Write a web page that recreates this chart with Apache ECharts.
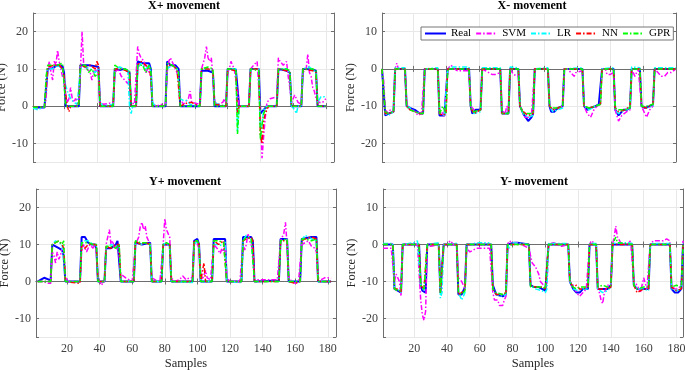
<!DOCTYPE html>
<html>
<head>
<meta charset="utf-8">
<script src="https://cdn.jsdelivr.net/npm/echarts@6/dist/echarts.min.js"></script>
<style>
html, body { margin: 0; padding: 0; background: #fff; }
#chart { width: 685px; height: 370px; }
</style>
</head>
<body>
<div id="chart"></div>
<script>
// X+ movement  [sample, force]
var xpReal = [[1,-0.4],[8,-0.4],[9,0],[10,10],[13,10.2],[16,11],[19,10.8],[20,9],[21,0],[29,0],[30,11],[35,11],[38,10.8],[41,10.5],[42,0],[50,0],[51,10],[54,9.7],[57,10],[60,9],[61,0],[64,0],[65,12],[68,11.5],[72,11.5],[73,10],[74,0],[82,0],[83,12],[85,11],[88,11],[90,10],[91,0],[103,0],[104,9.5],[108,9.5],[111,9],[112,0],[119,0],[120,10],[125,9.8],[126,5],[127,0],[133,0],[134,10],[139,10],[140,-2],[141,-2],[142,-1],[144,0],[150,0],[151,10],[156,9.5],[158,9],[159,0],[165,0],[166,10],[172,9.8],[174,9.5],[175,0],[180,0]];
var xpSVM = [[1,-0.5],[8,-0.3],[9,2],[10,10],[11,12],[12,9],[13,7],[14,12],[15,11],[16,15],[17,12],[18,10],[19,8],[20,7],[21,3],[22,1],[23,2],[24,5],[25,2],[26,1],[27,2],[28,1.5],[29,1],[30,10],[31,20],[32,11],[34,10],[36,9],[37,7],[38,9],[40,10],[41,8],[42,1],[44,0.5],[48,0.8],[50,0.5],[51,9],[53,10],[55,8],[57,7],[59,6],[60,8],[61,1],[63,0.5],[64,0.5],[65,16],[66,14],[67,13],[69,12],[70,9],[71,10],[72,10],[73,8],[74,1],[76,0],[80,0.5],[82,0.5],[83,9],[84,12],[85,13],[87,11],[89,9],[90,8],[91,2],[93,0.5],[96,2],[97,4],[98,1],[103,0.5],[104,10],[106,13],[107,16],[108,13],[109,12],[110,13],[111,8],[112,1],[114,0.5],[117,1],[118,2],[119,0.5],[120,9],[121,10],[122,12],[124,10],[126,4],[127,0],[133,0],[134,10],[136,11],[138,12],[139,5],[140,-3],[141,-14],[142,-8],[143,-3],[144,1],[146,2],[150,2.5],[151,13],[152,12],[154,11],[156,12],[157,8],[158,5],[159,1],[160,1.5],[161,3],[163,1],[165,0.5],[166,9],[168,10],[169,14],[170,9],[171,8],[172,5],[173,4],[174,2],[176,1],[178,1],[180,2]];
var xpLR = [[1,-0.5],[4,-1],[6,-0.5],[8,-0.3],[9,5],[10,10],[13,10],[16,11],[19,10],[20,7],[22,4],[24,2],[26,1],[28,0.5],[29,1],[30,10],[33,10.5],[36,10],[39,9],[41,10],[42,1],[44,0],[50,0.5],[51,10],[54,10.5],[57,10],[59,9.5],[60,0],[61,-2],[62,0],[64,0],[65,10],[67,11.5],[70,10],[72,11],[73,9],[74,1],[76,0],[82,0],[83,10],[86,11],[89,10],[90,6],[91,2],[93,1.5],[95,1.5],[97,0.5],[103,0],[104,10],[108,10],[111,9.5],[112,1],[114,0.5],[119,0],[120,10],[125,10],[126,-7],[127,0],[133,0],[134,10],[139,10],[140,-6],[141,-5],[142,-1],[144,0],[150,0],[151,10],[156,10],[158,9],[159,0],[161,-1],[162,-2],[163,0],[165,0],[166,10],[170,10.5],[174,9],[175,1],[177,2.5],[179,2.5],[180,2]];
var xpNN = [[1,-0.3],[8,-0.3],[9,5],[10,10.5],[14,11],[17,11],[19,10],[20,8],[21,3],[22,0],[23,-1.5],[24,0],[28,0],[29,1],[30,11],[33,10.5],[36,11],[39,10],[40,12],[41,11],[42,0],[50,0],[51,10],[55,10],[58,9.5],[60,9],[61,0],[64,0],[65,11],[67,12],[70,11],[72,10],[73,8],[74,0],[82,0],[83,11],[86,11],[89,10],[90,5],[91,0],[96,1],[98,1],[100,0.5],[103,0],[104,10],[108,10],[111,9.5],[112,0.5],[119,0],[120,10],[125,9.5],[126,-2],[127,0],[133,0],[134,10],[139,10],[140,-8],[141,-10],[142,-4],[143,-2],[145,0],[150,0],[151,10],[156,9.5],[158,9],[159,0],[165,0],[166,10],[172,9.5],[174,9],[175,0],[180,0]];
var xpGPR = [[1,-0.3],[8,-0.3],[9,8],[10,11],[13,11],[16,11],[19,11.5],[20,11],[21,0],[29,0],[30,11],[33,11],[35,9],[37,10],[39,8],[41,9],[42,0],[50,0],[51,11],[54,10],[57,10],[60,9.5],[61,0],[64,0],[65,11],[68,11],[70,9],[72,11],[73,10],[74,0],[82,0],[83,11.5],[86,11],[89,10],[90,9],[91,0],[103,0],[104,10],[108,10.5],[111,10],[112,0],[119,0],[120,10],[125,10],[126,-7.5],[127,0],[133,0],[134,10],[139,9.5],[140,-9],[141,-5],[142,-2],[144,0],[150,0],[151,10],[156,10],[158,9.5],[159,0],[165,0],[166,10],[172,10],[174,9.5],[175,0],[180,0]];

// X- movement
var xmReal = [[1,0],[2,0],[3,-12.5],[5,-12],[8,-11.5],[9,0],[15,0],[16,-10],[18,-10.5],[21,-11],[24,-12],[26,-12],[27,0],[35,0],[36,-12.5],[39,-12.5],[40,-12],[41,0],[54,0],[55,-10],[56,-12],[58,-11],[61,-11],[62,0],[73,0],[74,-12],[78,-12],[79,0],[84,0],[85,-10],[87,-12],[90,-14],[91,-14],[92,-13],[93,-12],[94,0],[102,0],[103,-10],[104,-11.5],[106,-11.5],[108,-10.5],[111,-10],[112,0],[123,0],[124,-10],[126,-11],[128,-10.5],[131,-10],[133,-9.5],[134,-9],[135,0],[142,0],[143,-11],[145,-12.5],[148,-11],[150,-11],[152,-10.5],[153,0],[158,0],[159,-10],[161,-10.5],[164,-10],[166,-9.5],[167,0],[180,0]];
var xmSVM = [[1,0],[2,-3],[3,-11],[5,-12],[6,-11],[7,-11],[8,-11.5],[9,0],[10,1.5],[11,0],[15,0],[16,-9],[17,-10.5],[19,-11],[21,-11.5],[23,-12.5],[25,-12],[26,-12],[27,0],[35,0],[36,-11],[38,-12],[39,-13],[40,-12.5],[41,0],[43,1],[45,0],[47,-0.5],[54,-0.5],[55,-10],[57,-11],[59,-11.5],[61,-11],[62,0],[64,-0.5],[66,-1],[68,-1.5],[70,-1.5],[73,-1],[74,-11],[76,-12],[77,-10],[78,-11],[79,0],[81,-1.5],[84,-2],[85,-10],[87,-12],[88,-13],[90,-13],[92,-12.5],[93,-12],[94,0],[102,0],[103,-10],[105,-11],[107,-10.5],[109,-10.5],[111,-10],[112,0],[114,0],[116,-1],[118,-2],[119,-1],[123,-0.5],[124,-10],[126,-12],[128,-13],[130,-11],[132,-10],[134,-9.5],[135,0],[137,0],[138,-1.5],[140,-1.5],[142,-1],[143,-11],[145,-14],[147,-12.5],[148,-13],[150,-11.5],[152,-11],[153,0],[155,-2],[157,0],[158,0],[159,-10],[161,-12],[162,-13],[164,-11],[166,-10],[167,0],[169,-1],[171,-2],[173,-2],[175,-1],[177,-1],[180,0]];
var xmLR = [[1,0],[2,0],[3,-12],[5,-12.5],[8,-11.5],[9,0.3],[15,0.3],[16,-10],[18,-10.5],[21,-11.5],[24,-12],[26,-12],[27,0],[35,0.3],[36,-12],[39,-12.5],[40,-12],[41,0],[44,0.5],[54,0.5],[55,-10],[57,-12],[61,-11.5],[62,0.3],[73,0.3],[74,-12],[78,-12],[79,0.5],[84,0.3],[85,-10],[87,-12],[90,-13],[93,-12.5],[94,0],[102,0.3],[103,-10],[105,-11.5],[108,-11],[111,-10.5],[112,0],[123,0.3],[124,-10],[127,-11],[131,-10],[134,-9.5],[135,0],[142,0.3],[143,-11],[145,-12],[149,-11],[152,-10.5],[153,0.5],[158,0.3],[159,-10],[162,-10.5],[166,-10],[167,0.3],[180,0.3]];
var xmNN = [[1,0],[2,0],[3,-12],[5,-12],[8,-11.5],[9,0],[15,0],[16,-10],[18,-11],[21,-11.5],[24,-12],[26,-12],[27,0],[35,0],[36,-12],[38,-12.5],[40,-12],[41,0],[54,0],[55,-10.5],[57,-12],[61,-11],[62,0],[73,0],[74,-12],[78,-12],[79,0],[84,0],[85,-10],[87,-11.5],[90,-12.5],[93,-12],[94,0],[102,0],[103,-10],[105,-11],[108,-10.5],[111,-10],[112,0],[123,0],[124,-10],[127,-10.5],[131,-10],[134,-9.5],[135,0],[142,0],[143,-10.5],[145,-11.5],[149,-11],[152,-10],[153,0],[158,0],[159,-10],[162,-10.5],[166,-9.5],[167,0],[180,0]];
var xmGPR = [[1,0],[2,0],[3,-11.5],[5,-12],[8,-11.5],[9,0],[15,0],[16,-10],[18,-11],[21,-11.5],[24,-12],[26,-12],[27,0],[35,0],[36,-12],[38,-10],[40,-12],[41,0],[54,0],[55,-10.5],[57,-11.5],[61,-11],[62,0],[73,0],[74,-12],[78,-12],[79,0],[84,0],[85,-10],[87,-12],[90,-12],[93,-12],[94,0],[102,0],[103,-10],[105,-10.5],[108,-10.5],[111,-10],[112,0],[123,0],[124,-10],[127,-10.5],[131,-10],[134,-9.5],[135,0],[142,0],[143,-10.5],[145,-11],[149,-11],[152,-10.5],[153,0],[158,0],[159,-10],[162,-10],[166,-9.5],[167,0],[180,0]];

// Y+ movement
var ypReal = [[2,0],[3,0.5],[4,0.5],[5,0.3],[6,1],[7,0.5],[10,0.3],[11,10],[13,9.5],[15,9],[17,8.5],[18,7],[19,0],[28,0],[29,12],[31,12],[33,10.5],[35,10],[37,10],[38,9],[39,0],[43,0],[44,9],[47,9],[50,10],[51,11],[52,10.5],[53,0],[61,0],[62,10.5],[66,10],[71,10.5],[72,0],[78,0],[79,10],[83,10],[84,0],[97,0],[98,11],[100,11.5],[101,10],[102,0],[109,0],[110,11.5],[117,11.5],[118,0],[127,0],[128,12],[133,12],[134,11],[135,0],[150,0.3],[151,11.5],[155,11.5],[156,0],[163,0],[164,11.5],[170,12],[173,12],[174,0],[182,0]];
var ypSVM = [[2,0],[6,0],[8,-0.5],[9,-1],[10,-0.5],[11,8],[12,7],[13,5],[14,8],[15,6],[16,7],[17,9],[18,8],[19,1],[21,0],[28,0],[29,8],[30,10],[31,9],[32,8],[34,10],[36,9],[37,10],[38,8],[39,1],[40,0],[41,-1],[42,-0.5],[43,0],[44,10],[45,12],[46,14],[47,10],[48,11],[49,9],[50,10],[51,10],[52,7],[53,2],[54,1.5],[56,1],[58,0.5],[60,0],[61,0.5],[62,10],[64,12],[65,15],[66,16],[67,14],[68,15],[69,12],[70,11],[71,10],[72,1],[74,0.5],[77,0],[78,0.5],[79,10],[80,17],[81,14],[82,13],[83,12],[84,1],[86,0],[89,0.5],[91,1.5],[93,0.5],[95,1],[97,1],[98,10],[99,11],[101,9],[102,2],[103,0.5],[105,3],[106,1],[108,0.5],[109,1],[110,10],[112,9],[114,7.5],[115,9],[116,8],[117,10],[118,1],[120,0],[126,0],[127,0.5],[128,10],[129,8.5],[130,10],[131,13],[132,11],[133,10],[134,8],[135,0.5],[149,0.5],[150,1],[151,11],[152,12],[153,13],[154,16],[155,10],[156,1],[158,0],[160,-0.5],[162,0],[163,0.5],[164,10],[166,10.5],[168,11],[170,9.5],[172,9],[173,8],[174,1],[176,0.5],[178,1],[180,1],[182,0.8]];
var ypLR = [[2,0],[10,0],[11,10],[13,11],[15,10.5],[17,10],[18,10],[19,0],[28,-0.3],[29,10.5],[31,11],[33,11],[36,10],[38,10],[39,0],[43,0],[44,9],[47,10],[50,9.5],[52,10],[53,0],[61,0],[62,11],[65,10],[68,10.5],[71,10],[72,0],[78,0],[79,10],[81,10.5],[83,9.5],[84,0],[97,-0.3],[98,10],[100,11],[101,10],[102,0],[103,-0.5],[104,0],[109,0],[110,10],[113,10],[116,9.5],[117,11],[118,0],[127,-0.3],[128,11],[130,12.5],[133,11.5],[134,11],[135,0],[150,0],[151,11],[155,11.5],[156,0],[163,0],[164,11],[166,12.5],[170,11.5],[173,11],[174,0],[182,0]];
var ypNN = [[2,0],[10,0],[11,10],[13,10.5],[15,11],[17,10],[18,9],[19,0],[28,-0.5],[29,10],[31,9],[33,10],[36,10],[38,10],[39,0],[43,0],[44,9.5],[47,9],[50,10],[52,10],[53,0],[61,0],[62,11],[65,10],[68,10.5],[71,10],[72,0],[78,0],[79,10],[81,10],[83,10],[84,0],[97,0],[98,11],[100,11],[101,10],[102,0],[104,5],[105,0],[109,0],[110,11],[113,10],[116,11],[117,11],[118,0],[127,0],[128,11],[130,11.5],[133,12],[134,11],[135,0],[150,0],[151,11],[155,11],[156,0],[160,-0.5],[163,0],[164,11],[166,11.5],[170,12],[173,11.5],[174,0],[182,0]];
var ypGPR = [[2,0],[10,0],[11,10],[13,10.5],[15,11],[17,10],[18,11],[19,0],[28,0],[29,10.5],[31,10.5],[33,10.5],[36,10],[38,10],[39,0],[43,0],[44,9.5],[47,9.5],[50,9],[52,10],[53,0],[61,0],[62,11],[65,10.5],[68,10.5],[71,10],[72,0],[78,0],[79,10],[81,10.5],[83,10],[84,0],[97,0],[98,11],[100,11],[101,10],[102,0],[109,0],[110,11],[113,11],[116,10.5],[117,10],[118,0],[127,0],[128,11],[130,12],[133,11.5],[134,11],[135,0],[150,0],[151,11],[155,11.5],[156,0],[163,0],[164,11.5],[166,11.5],[170,11],[173,11.5],[174,0],[182,0]];

// Y- movement
var ymReal = [[1,0],[7,0],[8,-12],[10,-12.5],[12,-13],[13,0],[23,0],[24,-11],[25,-12.5],[27,-13],[28,0],[35,0],[36,-13],[37,-13],[38,0],[46,0],[47,-13.5],[49,-13.5],[51,-11.5],[52,0],[67,0],[68,-11],[70,-13.5],[74,-14],[76,-13.5],[77,0],[81,0.5],[83,0.5],[90,0],[91,-11],[93,-11.5],[96,-11.5],[98,-12],[100,-12.5],[101,-12],[102,0],[114,0],[115,-10],[117,-12],[119,-13],[121,-13],[123,-12],[126,-12],[127,0],[131,0],[132,-12],[135,-12],[138,-12],[140,-11],[141,0],[153,0],[154,-11],[156,-12],[160,-12],[163,-12],[164,0],[176,0],[177,-12],[179,-13],[181,-13],[183,-12],[184,0]];
var ymSVM = [[1,-1],[6,-1],[7,-0.5],[8,-10],[9,-8],[10,-9],[11,-10],[12,-14],[13,0],[22,0],[23,-0.5],[24,-15],[25,-19],[26,-20.5],[27,-18],[28,0],[30,-0.5],[35,0],[36,-13],[37,-13],[38,0],[40,0],[42,1],[44,0],[46,-0.5],[47,-9],[48,-9],[49,-10],[50,-11],[51,-12],[52,-1],[54,-2],[58,-1],[66,-1],[67,-0.5],[68,-13],[69,-15],[71,-15],[72,-16.5],[74,-16.5],[75,-15],[76,-14],[77,0],[78,1],[80,0.5],[83,0.5],[90,-1],[91,-3],[92,-5],[93,-5],[94,-6],[95,-7],[96,-8],[97,-10],[99,-11],[101,-11],[102,0],[105,0.5],[110,-0.5],[114,0],[115,-10],[117,-11],[119,-13],[121,-14],[123,-13],[125,-12],[126,-12],[127,0],[128,1],[131,0],[132,-12],[133,-13],[134,-15],[135,-16],[136,-13],[138,-11],[140,-11],[141,0],[142,2],[143,5],[144,2],[146,0.5],[150,0],[152,1],[153,0.5],[154,-10],[156,-11],[158,-13],[160,-9],[162,-12],[163,-12.5],[164,0],[166,1],[167,1.5],[169,1],[172,1],[174,1.5],[176,1],[177,-11],[179,-12],[181,-12],[183,-11],[184,1]];
var ymLR = [[1,0.3],[7,0.3],[8,-12],[10,-12],[12,-13],[13,0],[20,0.5],[22,1],[23,0.5],[24,-11],[26,-12.5],[27,-13],[28,0],[35,0.5],[36,-14.5],[37,-13],[38,0],[46,0.3],[47,-13],[49,-15],[51,-13],[52,0],[60,0.5],[65,0.5],[67,0],[68,-12],[70,-13.5],[74,-14],[76,-13.5],[77,0],[78,-1],[80,0.5],[90,0],[91,-11],[94,-12],[98,-12.5],[100,-13],[101,-12],[102,0.3],[114,0.3],[115,-10],[117,-12],[120,-12.5],[123,-12],[126,-12],[127,0.3],[131,0.3],[132,-12],[135,-13],[138,-12.5],[140,-11.5],[141,0.3],[150,0.5],[153,0.3],[154,-11],[156,-12],[160,-12],[163,-12.5],[164,0.3],[176,0.3],[177,-12],[180,-12.5],[183,-12],[184,0.3]];
var ymNN = [[1,0],[7,0],[8,-12],[10,-12],[12,-13],[13,0],[23,0],[24,-11],[26,-12],[27,-12.5],[28,0],[35,0],[36,-13],[37,-12.5],[38,0],[46,0],[47,-13.5],[49,-13],[51,-12],[52,0],[67,0],[68,-12],[70,-13.5],[74,-13.5],[76,-13],[77,0],[90,0],[91,-11],[94,-11.5],[98,-11.5],[100,-12],[101,-11.5],[102,0],[114,0],[115,-10],[117,-11.5],[119,-11],[121,-12],[123,-12],[126,-11.5],[127,0],[131,0],[132,-12],[135,-12],[138,-12],[140,-11.5],[141,0],[153,0],[154,-11],[156,-13],[160,-12],[163,-12],[164,0],[176,0],[177,-11.5],[180,-12.5],[183,-12],[184,0]];
var ymGPR = [[1,0],[7,0],[8,-12],[10,-12.5],[12,-12.5],[13,0],[23,0],[24,-11],[26,-12],[27,-12.5],[28,0],[35,0],[36,-13],[37,-12.5],[38,0],[46,0],[47,-13],[49,-13.5],[51,-12.5],[52,0],[67,0],[68,-12],[70,-13],[74,-13.5],[76,-13],[77,0],[90,0],[91,-11.5],[94,-11.5],[98,-11.5],[100,-12],[101,-11.5],[102,0],[114,0],[115,-10],[117,-11.5],[119,-12],[121,-11.5],[123,-11.5],[126,-11.5],[127,0],[131,0],[132,-11.5],[135,-11],[138,-11.5],[140,-11],[141,0],[142,1],[143,2],[144,0.5],[153,0],[154,-11],[156,-12],[160,-11.5],[163,-11.5],[164,0],[176,0],[177,-11.5],[180,-11],[183,-11.5],[184,0]];

var names = ['Real', 'SVM', 'LR', 'NN', 'GPR'];
var colors = ['#0000ff', '#ff00ff', '#00ffff', '#ff0000', '#00ff00'];
var titles = ['X+ movement', 'X- movement', 'Y+ movement', 'Y- movement'];
var panelData = [
  [xpReal, xpSVM, xpLR, xpNN, xpGPR],
  [xmReal, xmSVM, xmLR, xmNN, xmGPR],
  [ypReal, ypSVM, ypLR, ypNN, ypGPR],
  [ymReal, ymSVM, ymLR, ymNN, ymGPR]
];

var font = '"Liberation Serif", "Times New Roman", serif';
var grids = [
  {left: 33, top: 13, width: 301, height: 149},
  {left: 382, top: 13, width: 294, height: 149},
  {left: 36, top: 189, width: 300, height: 148},
  {left: 383, top: 189, width: 300, height: 148}
];
var xMax = [185, 180, 185, 184];
var yMin = [-15, -25, -15, -25];
var yMax = [25, 15, 25, 15];
var titleX = [184, 532, 185, 534];
var titleY = [6, 6, 182, 182];

var xAxes = [], yAxes = [], series = [], titleText = [];
for (var i = 0; i < 4; i++) {
  var bottom = i >= 2;
  xAxes.push({
    gridIndex: i, type: 'value', min: 1, max: xMax[i], minInterval: 20, maxInterval: 20,
    name: bottom ? 'Samples' : '', nameLocation: 'middle', nameGap: 20,
    nameTextStyle: {fontFamily: font, fontSize: 12.5, color: '#262626'},
    axisLine: {lineStyle: {color: '#6e6e6e'}},
    axisTick: {inside: true, length: 3, lineStyle: {color: '#6e6e6e'}},
    axisLabel: {show: bottom, margin: 6, fontFamily: font, fontSize: 12, color: '#404040',
      formatter: function (v) { return v % 20 === 0 ? v : ''; }},
    splitLine: {show: true, lineStyle: {color: '#e8e8e8'}}
  });
  yAxes.push({
    gridIndex: i, type: 'value', min: yMin[i], max: yMax[i], minInterval: 10, maxInterval: 10,
    name: 'Force (N)', nameLocation: 'middle', nameGap: i % 2 ? 23 : 18,
    nameTextStyle: {fontFamily: font, fontSize: 12.5, color: '#262626'},
    axisLine: {lineStyle: {color: '#6e6e6e'}},
    axisTick: {inside: true, length: 3, lineStyle: {color: '#6e6e6e'}},
    axisLabel: {margin: 5, fontFamily: font, fontSize: 12, color: '#404040',
      formatter: function (v) { return v % 10 === 0 ? v : ''; }},
    splitLine: {show: true, lineStyle: {color: '#e8e8e8'}}
  });
  titleText.push({
    type: 'text', x: titleX[i], y: titleY[i], z: 10,
    style: {text: titles[i], fill: '#000', font: 'bold 12px ' + font,
      align: 'center', verticalAlign: 'middle'}
  });
  for (var k = 0; k < 5; k++) {
    series.push({
      name: names[k], type: 'line', xAxisIndex: i, yAxisIndex: i,
      data: panelData[i][k], symbol: 'none', animation: false,
      lineStyle: {color: colors[k], width: k === 0 ? 2 : 1.5, type: k === 0 ? 'solid' : [5, 2, 1.5, 2]},
      itemStyle: {color: colors[k]}
    });
  }
}
// box ticks on top and right
for (var j = 0; j < 4; j++) {
  xAxes.push({
    gridIndex: j, type: 'value', position: 'top', min: 1, max: xMax[j], minInterval: 20, maxInterval: 20,
    axisLine: {lineStyle: {color: '#6e6e6e'}},
    axisTick: {inside: true, length: 3, lineStyle: {color: '#6e6e6e'}},
    axisLabel: {show: false}, splitLine: {show: false}
  });
  yAxes.push({
    gridIndex: j, type: 'value', position: 'right', min: yMin[j], max: yMax[j], minInterval: 10, maxInterval: 10,
    axisLine: {lineStyle: {color: '#6e6e6e'}},
    axisTick: {inside: true, length: 3, lineStyle: {color: '#6e6e6e'}},
    axisLabel: {show: false}, splitLine: {show: false}
  });
}

var chart = echarts.init(document.getElementById('chart'));
chart.setOption({
  backgroundColor: '#fff',
  animation: false,
  graphic: titleText,
  grid: grids.map(function (g) {
    return {left: g.left, top: g.top, width: g.width, height: g.height, outerBoundsMode: 'none'};
  }),
  legend: {
    data: names, left: 421, top: 27, orient: 'horizontal',
    itemWidth: 21, itemHeight: 8, itemGap: 4, padding: [1, 3],
    itemStyle: {opacity: 0},
    backgroundColor: '#fff', borderColor: '#777', borderWidth: 1,
    textStyle: {fontFamily: font, fontSize: 11, color: '#000'}
  },
  xAxis: xAxes,
  yAxis: yAxes,
  series: series
});
</script>
</body>
</html>
